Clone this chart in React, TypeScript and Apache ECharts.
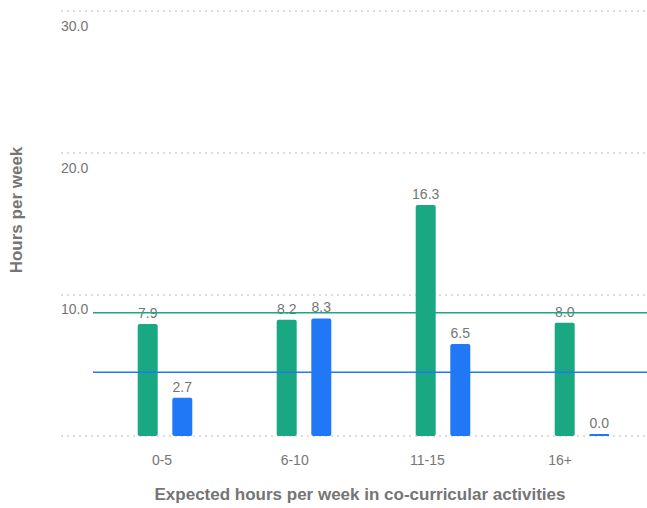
import React, { useEffect, useRef } from "react";
import * as echarts from "echarts";

const categories = ["0-5", "6-10", "11-15", "16+"];
const greenValues = [7.9, 8.2, 16.3, 8.0];
const blueValues = [2.7, 8.3, 6.5, 0.0];
const greenRef = 8.7;
const blueRef = 4.5;
const yTicks = { min: 0, max: 30, interval: 10 };

const GREEN = "#1aa883";
const BLUE = "#2178f6";
const GREY = "#757575";
const FONT = "'Liberation Sans', Arial, sans-serif";

export default function App() {
  const ref = useRef<HTMLDivElement>(null);
  useEffect(() => {
    const chart = echarts.init(ref.current!, null, { renderer: "svg" });
    const hiddenY = (gridIndex: number) => ({
      type: "value",
      gridIndex,
      min: yTicks.min,
      max: yTicks.max,
      interval: yTicks.interval,
      show: false,
      splitLine: { show: false },
    });
    const valueLabel = {
      show: true,
      position: "top",
      distance: 4,
      color: GREY,
      fontSize: 14,
      fontFamily: FONT,
      formatter: (p: any) => Number(p.value).toFixed(1),
    };
    const refLine = (value: number, color: string) => ({
      type: "line",
      xAxisIndex: 3,
      yAxisIndex: 3,
      data: categories.map(() => value),
      symbol: "none",
      silent: true,
      lineStyle: { color, width: 1.5 },
    });
    chart.setOption({
      animation: false,
      textStyle: { fontFamily: FONT },
      grid: [
        { left: 61, right: 0, top: 11, bottom: 72 },
        { left: 165, width: 417, top: 11, bottom: 72 },
        { left: 162, width: 398, top: 11, bottom: 72 },
        { left: 93, right: 0, top: 11, bottom: 72 },
        { left: 73, right: 0, top: 11, bottom: 72 },
      ],
      xAxis: [
        { type: "category", gridIndex: 0, data: categories, show: false },
        { type: "category", gridIndex: 1, data: categories, show: false, boundaryGap: false },
        {
          type: "category",
          gridIndex: 2,
          data: categories,
          boundaryGap: false,
          axisLine: { show: false },
          axisTick: { show: false },
          axisLabel: { color: GREY, fontSize: 14, margin: 17, fontFamily: FONT },
        },
        { type: "category", gridIndex: 3, data: categories, show: false, boundaryGap: false },
        {
          type: "category",
          gridIndex: 4,
          data: categories,
          axisLine: { show: false },
          axisTick: { show: false },
          axisLabel: { show: false },
          name: "Expected hours per week in co-curricular activities",
          nameLocation: "middle",
          nameGap: 63,
          nameTextStyle: { color: GREY, fontSize: 17, fontWeight: "bold", fontFamily: FONT },
        },
      ],
      yAxis: [
        {
          type: "value",
          gridIndex: 0,
          min: yTicks.min,
          max: yTicks.max,
          interval: yTicks.interval,
          axisLine: { show: false },
          axisTick: { show: false },
          axisLabel: {
            inside: true,
            margin: 0,
            showMinLabel: false,
            verticalAlign: "top",
            padding: [8, 0, 0, 0],
            color: GREY,
            fontSize: 14,
            fontFamily: FONT,
            formatter: (v: number) => v.toFixed(1),
          },
          splitLine: { lineStyle: { color: "#dddddd", width: 2, type: [2, 4] } },
        },
        hiddenY(1),
        hiddenY(2),
        hiddenY(3),
        hiddenY(4),
      ],
      graphic: [
        {
          type: "text",
          x: 16,
          y: 210,
          rotation: Math.PI / 2,
          style: {
            text: "Hours per week",
            fill: GREY,
            font: `bold 17px ${FONT}`,
            align: "center",
            verticalAlign: "middle",
          },
        },
      ],
      series: [
        refLine(greenRef, GREEN),
        refLine(blueRef, BLUE),
        {
          type: "bar",
          xAxisIndex: 1,
          yAxisIndex: 1,
          data: greenValues,
          barWidth: 20,
          barGap: "73%",
          itemStyle: { color: GREEN, borderRadius: 2 },
          label: valueLabel,
        },
        {
          type: "bar",
          xAxisIndex: 1,
          yAxisIndex: 1,
          data: blueValues,
          barWidth: 20,
          barGap: "73%",
          barMinHeight: 2,
          itemStyle: { color: BLUE, borderRadius: 2 },
          label: valueLabel,
        },
      ],
    });
    return () => chart.dispose();
  }, []);
  return <div ref={ref} style={{ width: 647, height: 508, position: "absolute", left: 0, top: 0 }} />;
}
